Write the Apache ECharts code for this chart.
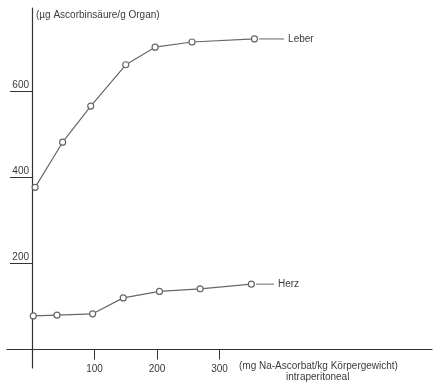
<!DOCTYPE html>
<html><head><meta charset="utf-8">
<script src="https://cdn.jsdelivr.net/npm/echarts@6/dist/echarts.min.js"></script>
<style>html,body{margin:0;padding:0;background:#fff}#c{width:437px;height:387px}</style>
</head><body><div id="c"></div>
<script>
// Data
const leberDose = [5, 49, 94, 150, 197, 256, 356];
const leberVals = [377, 482, 566, 662, 703, 715, 722];
const herzDose = [2, 40, 97, 146, 204, 269, 351];
const herzVals = [78, 80, 83, 120, 135, 141, 152];
const xTicks = [100, 200, 300];
const yTicks = [200, 400, 600];
const seriesNames = ['Leber', 'Herz'];
const yTitle = '(µg Ascorbinsäure/g Organ)';
const xTitle1 = '(mg Na-Ascorbat/kg Körpergewicht)';
const xTitle2 = 'intraperitoneal';

const lineColor = '#6e6562';
const axisColor = '#333';
const textColor = '#3a3a3a';
const font = 'Liberation Sans, Arial, sans-serif';
const fs = 10;

function build(xs, ys, name, barW) {
  return xs.map((x, i) => {
    const d = { value: [x, ys[i]] };
    if (i === xs.length - 1) {
      d.label = {
        show: true, position: 'right', distance: 1,
        formatter: '{l|}{t|' + name + '}',
        rich: {
          l: { width: barW, height: 1, backgroundColor: lineColor },
          t: { padding: [0, 0, 0, 4], fontSize: fs, color: textColor, fontFamily: font }
        }
      };
    }
    return d;
  });
}

const tStyle = { fontSize: fs, fontWeight: 'normal', color: textColor, fontFamily: font };
const chart = echarts.init(document.getElementById('c'), null, { renderer: 'canvas' });
chart.setOption({
  animation: false,
  backgroundColor: '#fff',
  title: [
    { text: yTitle, left: 36, top: 10, padding: 0, textStyle: tStyle },
    { text: xTitle1, left: 239, top: 361, padding: 0, textStyle: tStyle },
    { text: xTitle2, left: 286, top: 372, padding: 0, textStyle: tStyle }
  ],
  grid: { left: 7, right: 5, top: 8, bottom: 19, containLabel: false, outerBoundsMode: 'none' },
  xAxis: {
    type: 'value', min: -40, max: 640,
    splitLine: { show: false },
    axisLine: { onZero: true, lineStyle: { color: axisColor, width: 1.2 } },
    axisTick: { length: 10, customValues: xTicks, lineStyle: { color: axisColor } },
    axisLabel: { customValues: xTicks, margin: -4, fontSize: fs, color: textColor, fontFamily: font }
  },
  yAxis: {
    type: 'value', min: -43, max: 794,
    splitLine: { show: false },
    axisLine: { show: true, onZero: true, lineStyle: { color: axisColor, width: 1.2 } },
    axisTick: { show: true, length: 22, customValues: yTicks, lineStyle: { color: axisColor } },
    axisLabel: { customValues: yTicks, margin: -22, align: 'right', verticalAlign: 'bottom', padding: [0, 0, 1, 0], fontSize: fs, color: textColor, fontFamily: font }
  },
  series: [
    {
      name: seriesNames[0], type: 'line', data: build(leberDose, leberVals, seriesNames[0], 25),
      symbol: 'circle', symbolSize: 6,
      lineStyle: { color: lineColor, width: 1.2 },
      itemStyle: { color: '#fff', borderColor: lineColor, borderWidth: 1.2 }
    },
    {
      name: seriesNames[1], type: 'line', data: build(herzDose, herzVals, seriesNames[1], 18),
      symbol: 'circle', symbolSize: 6,
      lineStyle: { color: lineColor, width: 1.2 },
      itemStyle: { color: '#fff', borderColor: lineColor, borderWidth: 1.2 }
    }
  ]
});
</script>
</body></html>
